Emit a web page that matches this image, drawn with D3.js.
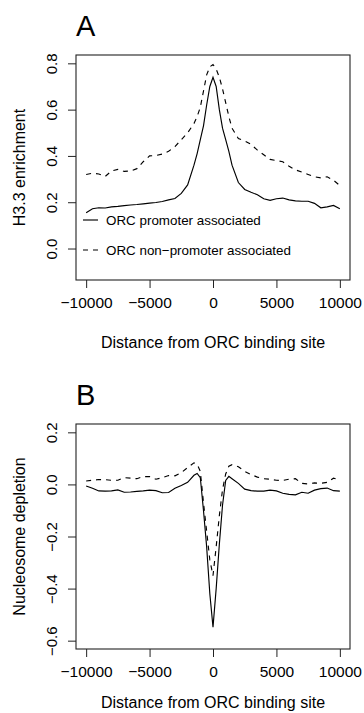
<!DOCTYPE html>
<html>
<head>
<meta charset="utf-8">
<script src="https://cdn.jsdelivr.net/npm/d3@7"></script>
<style>
  body { margin: 0; background: #fff; }
  svg { display: block; font-family: "Liberation Sans", Arial, sans-serif; }
</style>
</head>
<body>
<div id="chart"></div>
<script>
let width = 364,
    height = 713;

// distance from ORC binding site (bp)
const positions = [-10000, -9500, -9000, -8500, -8000, -7500, -7000, -6500, -6000, -5500,
  -5000, -4500, -4000, -3500, -3000, -2500, -2000, -1500, -1250, -1000, -750, -500, -250,
  0, 250, 500, 750, 1000, 1250, 1500, 2000, 2500, 3000, 3500, 4000, 4500, 5000, 5500,
  6000, 6500, 7000, 7500, 8000, 8500, 9000, 9500, 10000];

// panel A: H3.3 enrichment
const h33Promoter = [0.155, 0.172, 0.176, 0.175, 0.180, 0.182, 0.185, 0.188, 0.190, 0.193,
  0.196, 0.199, 0.203, 0.210, 0.216, 0.238, 0.275, 0.360, 0.410, 0.470, 0.530, 0.620, 0.700,
  0.740, 0.700, 0.600, 0.520, 0.470, 0.420, 0.360, 0.285, 0.255, 0.243, 0.232, 0.215, 0.208,
  0.215, 0.218, 0.210, 0.206, 0.204, 0.204, 0.195, 0.176, 0.180, 0.186, 0.172];
const h33NonPromoter = [0.320, 0.325, 0.322, 0.311, 0.335, 0.342, 0.333, 0.335, 0.345, 0.375,
  0.400, 0.402, 0.408, 0.420, 0.440, 0.470, 0.500, 0.540, 0.570, 0.610, 0.680, 0.750, 0.785,
  0.795, 0.775, 0.740, 0.690, 0.630, 0.570, 0.520, 0.475, 0.465, 0.450, 0.425, 0.405, 0.385,
  0.380, 0.375, 0.355, 0.340, 0.330, 0.320, 0.310, 0.305, 0.310, 0.295, 0.272];

// panel B: nucleosome depletion
const nucPromoter = [-0.006, -0.015, -0.025, -0.026, -0.025, -0.021, -0.030, -0.029, -0.027, -0.025,
  -0.022, -0.024, -0.032, -0.031, -0.015, -0.004, 0.008, 0.035, 0.042, 0.026, -0.100, -0.240, -0.420,
  -0.548, -0.400, -0.230, -0.080, 0.015, 0.031, 0.022, 0.004, -0.018, -0.024, -0.026, -0.026, -0.022,
  -0.025, -0.034, -0.038, -0.040, -0.030, -0.034, -0.022, -0.016, -0.014, -0.024, -0.026];
const nucNonPromoter = [0.013, 0.016, 0.019, 0.018, 0.016, 0.016, 0.026, 0.024, 0.022, 0.030,
  0.030, 0.020, 0.026, 0.034, 0.033, 0.045, 0.065, 0.083, 0.078, 0.050, -0.070, -0.180, -0.290,
  -0.350, -0.240, -0.120, -0.020, 0.040, 0.070, 0.076, 0.068, 0.050, 0.038, 0.028, 0.022, 0.020,
  0.016, 0.015, 0.020, 0.022, 0.004, 0.002, 0.006, 0.004, 0.008, 0.024, 0.018];

const xTicks = [-10000, -5000, 0, 5000, 10000];
const yTicksA = [0, 0.2, 0.4, 0.6, 0.8];
const yTicksB = [-0.6, -0.4, -0.2, 0, 0.2];
const xlim = [-10000, 10000];
const ylimA = [-0.1, 0.8];
const ylimB = [-0.6, 0.2];
const legendLabels = ["ORC promoter associated", "ORC non\u2212promoter associated"];

const svg = d3.select("#chart")
  .append("svg")
  .attr("width", width)
  .attr("height", height)
  .attr("viewBox", [0, 0, width, height]);

// R style 4% padding on the limits
const pad = lim => {
  let d = (lim[1] - lim[0]) * 0.04;
  return [lim[0] - d, lim[1] + d];
};

function panel(opts) {
  let { top, letter, ylim, yTicks, yTitle, series, legend } = opts;
  let left = 76, right = 350, bottom = top + 225;

  let x = d3.scaleLinear().domain(pad(xlim)).range([left, right]);
  let y = d3.scaleLinear().domain(pad(ylim)).range([bottom, top]);

  let g = svg.append("g");

  g.append("text")
    .text(letter)
    .attr("x", left)
    .attr("y", top - 19)
    .attr("font-size", 29);

  g.append("rect")
    .attr("x", left)
    .attr("y", top)
    .attr("width", right - left)
    .attr("height", bottom - top)
    .attr("fill", "none")
    .attr("stroke", "#222")
    .attr("stroke-width", 1.1);

  g.append("g")
    .attr("transform", `translate(0,${bottom})`)
    .call(d3.axisBottom(x).tickValues(xTicks).tickSize(8).tickFormat(d3.format("d")))
    .call(a => a.select(".domain").remove())
    .call(a => a.selectAll("line").attr("stroke", "#222"))
    .call(a => a.selectAll("text")
      .attr("y", 28)
      .attr("dy", null)
      .attr("fill", "#000")
      .attr("font-family", null)
      .attr("font-size", 15.5));

  g.append("g")
    .attr("transform", `translate(${left},0)`)
    .call(d3.axisLeft(y).tickValues(yTicks).tickSize(8).tickFormat(d3.format(".1f")))
    .call(a => a.select(".domain").remove())
    .call(a => a.selectAll("line").attr("stroke", "#222"))
    .call(a => a.selectAll("text")
      .attr("x", null)
      .attr("dy", null)
      .attr("text-anchor", "middle")
      .attr("transform", "translate(-19,0) rotate(-90)")
      .attr("fill", "#000")
      .attr("font-family", null)
      .attr("font-size", 15));

  g.append("text")
    .text("Distance from ORC binding site")
    .attr("x", (left + right) / 2)
    .attr("y", bottom + opts.xTitleOffset)
    .attr("text-anchor", "middle")
    .attr("font-size", 16);

  g.append("text")
    .text(yTitle)
    .attr("transform", `translate(25,${(top + bottom) / 2}) rotate(-90)`)
    .attr("text-anchor", "middle")
    .attr("font-size", 16);

  let line = d3.line()
    .x((d, i) => x(positions[i]))
    .y(d => y(d));

  for (let s of series) {
    g.append("path")
      .datum(s.values)
      .attr("fill", "none")
      .attr("stroke", "#000")
      .attr("stroke-width", 1.15)
      .attr("stroke-dasharray", s.dashed ? "5,5" : null)
      .attr("d", line);
  }

  if (legend) {
    series.forEach((s, i) => {
      let ly = top + 165 + i * 30;
      g.append("line")
        .attr("x1", 83).attr("x2", 98)
        .attr("y1", ly).attr("y2", ly)
        .attr("stroke", "#000")
        .attr("stroke-width", 1.15)
        .attr("stroke-dasharray", s.dashed ? "5,5" : null);
      g.append("text")
        .text(legendLabels[i])
        .attr("x", 106)
        .attr("y", ly)
        .attr("dy", "0.36em")
        .attr("font-size", 13.4);
    });
  }
}

panel({
  top: 55, letter: "A", ylim: ylimA, yTicks: yTicksA,
  yTitle: "H3.3 enrichment", xTitleOffset: 68, legend: true,
  series: [{ values: h33Promoter, dashed: false }, { values: h33NonPromoter, dashed: true }]
});

// bottom title sits right at the page edge, keep its descenders inside
panel({
  top: 424, letter: "B", ylim: ylimB, yTicks: yTicksB,
  yTitle: "Nucleosome depletion", xTitleOffset: 59, legend: false,
  series: [{ values: nucPromoter, dashed: false }, { values: nucNonPromoter, dashed: true }]
});
</script>
</body>
</html>
